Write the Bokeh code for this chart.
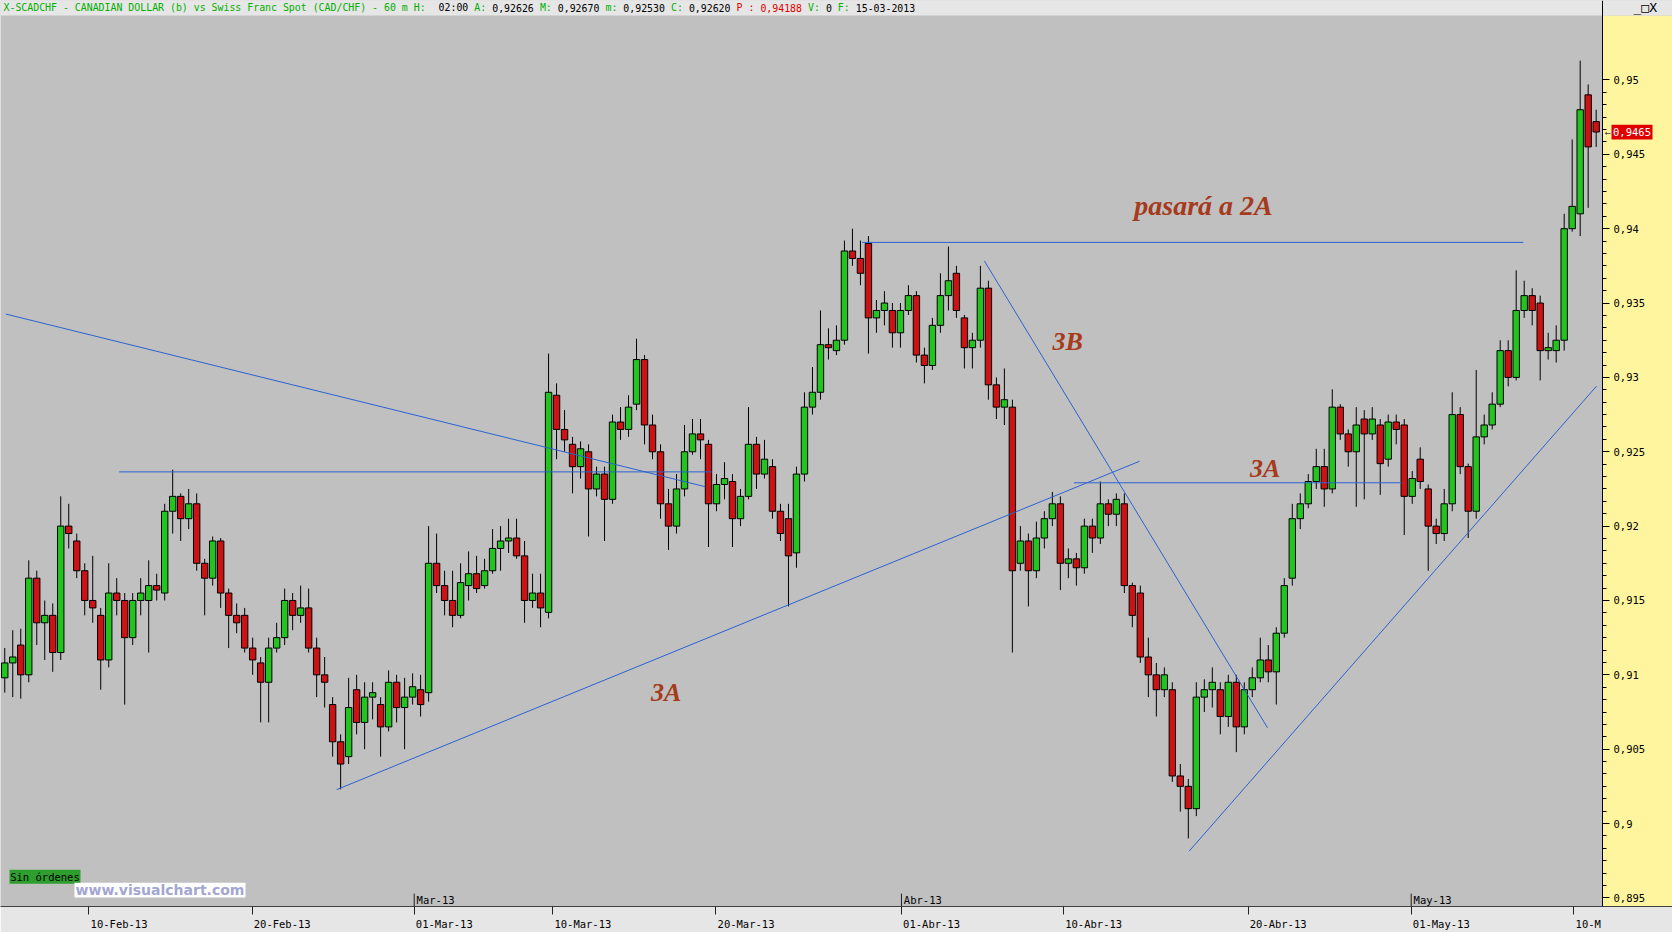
from bokeh.plotting import figure
from bokeh.models import ColumnDataSource, FixedTicker, Range1d
from bokeh.core.properties import value
from bokeh.embed import file_html
from bokeh.resources import INLINE

# ---------------- data ----------------
opens = [0.9098, 0.9108, 0.9120, 0.9100, 0.9165, 0.9135, 0.9140, 0.9115, 0.9200, 0.9190,
         0.9170, 0.9150, 0.9140, 0.9110, 0.9155, 0.9150, 0.9125, 0.9150, 0.9150, 0.9160,
         0.9155, 0.9210, 0.9220, 0.9205, 0.9215, 0.9175, 0.9165, 0.9190, 0.9155, 0.9140,
         0.9140, 0.9118, 0.9108, 0.9095, 0.9118, 0.9125, 0.9150, 0.9140, 0.9145, 0.9118,
         0.9100, 0.9080, 0.9055, 0.9045, 0.9090, 0.9068, 0.9085, 0.9080, 0.9065, 0.9095,
         0.9078, 0.9085, 0.9090, 0.9088, 0.9175, 0.9160, 0.9150, 0.9140, 0.9160, 0.9168,
         0.9160, 0.9170, 0.9185, 0.9190, 0.9192, 0.9180, 0.9150, 0.9155, 0.9142, 0.9288,
         0.9265, 0.9255, 0.9240, 0.9250, 0.9225, 0.9235, 0.9218, 0.9270, 0.9265, 0.9282,
         0.9312, 0.9268, 0.9250, 0.9215, 0.9200, 0.9225, 0.9250, 0.9262, 0.9255, 0.9215,
         0.9228, 0.9230, 0.9205, 0.9220, 0.9255, 0.9235, 0.9240, 0.9210, 0.9205, 0.9182,
         0.9235, 0.9280, 0.9290, 0.9322, 0.9318, 0.9325, 0.9385, 0.9380, 0.9390, 0.9340,
         0.9345, 0.9345, 0.9330, 0.9345, 0.9355, 0.9315, 0.9308, 0.9335, 0.9355, 0.9370,
         0.9340, 0.9320, 0.9325, 0.9360, 0.9295, 0.9280, 0.9280, 0.9175, 0.9190, 0.9170,
         0.9192, 0.9205, 0.9215, 0.9175, 0.9178, 0.9172, 0.9200, 0.9192, 0.9215, 0.9208,
         0.9215, 0.9160, 0.9155, 0.9112, 0.9100, 0.9090, 0.9090, 0.9032, 0.9025, 0.9010,
         0.9085, 0.9090, 0.9090, 0.9072, 0.9095, 0.9065, 0.9090, 0.9098, 0.9110, 0.9102,
         0.9128, 0.9165, 0.9205, 0.9215, 0.9230, 0.9240, 0.9225, 0.9280, 0.9262, 0.9250,
         0.9272, 0.9262, 0.9268, 0.9245, 0.9270, 0.9268, 0.9220, 0.9245, 0.9225, 0.9200,
         0.9195, 0.9215, 0.9275, 0.9240, 0.9210, 0.9260, 0.9268, 0.9282, 0.9318, 0.9300,
         0.9345, 0.9355, 0.9350, 0.9318, 0.9318, 0.9325, 0.9400, 0.9410, 0.9490, 0.9472]
highs = [0.9118, 0.9130, 0.9131, 0.9177, 0.9170, 0.9150, 0.9148, 0.9220, 0.9215, 0.9195,
         0.9175, 0.9180, 0.9145, 0.9175, 0.9165, 0.9155, 0.9155, 0.9165, 0.9177, 0.9168,
         0.9215, 0.9238, 0.9222, 0.9225, 0.9222, 0.9178, 0.9193, 0.9192, 0.9158, 0.9148,
         0.9145, 0.9125, 0.9112, 0.9125, 0.9135, 0.9158, 0.9155, 0.9160, 0.9158, 0.9125,
         0.9112, 0.9085, 0.9060, 0.9098, 0.9100, 0.9095, 0.9095, 0.9085, 0.9103, 0.9100,
         0.9098, 0.9101, 0.9100, 0.9200, 0.9195, 0.9170, 0.9170, 0.9175, 0.9183, 0.9180,
         0.9178, 0.9198, 0.9200, 0.9205, 0.9205, 0.9190, 0.9168, 0.9168, 0.9316, 0.9296,
         0.9278, 0.9260, 0.9257, 0.9255, 0.9240, 0.9240, 0.9275, 0.9280, 0.9288, 0.9326,
         0.9315, 0.9275, 0.9255, 0.9225, 0.9235, 0.9268, 0.9272, 0.9272, 0.9258, 0.9235,
         0.9243, 0.9235, 0.9225, 0.9280, 0.9260, 0.9258, 0.9245, 0.9215, 0.9215, 0.9240,
         0.9290, 0.9307, 0.9345, 0.9333, 0.9335, 0.9392, 0.9400, 0.9392, 0.9395, 0.9352,
         0.9358, 0.9350, 0.9350, 0.9362, 0.9358, 0.9320, 0.9340, 0.9370, 0.9388, 0.9375,
         0.9342, 0.9330, 0.9375, 0.9365, 0.9300, 0.9306, 0.9285, 0.9200, 0.9195, 0.9203,
         0.9210, 0.9223, 0.9220, 0.9185, 0.9182, 0.9205, 0.9205, 0.9230, 0.9218, 0.9222,
         0.9222, 0.9162, 0.9160, 0.9125, 0.9108, 0.9105, 0.9095, 0.9040, 0.9030, 0.9095,
         0.9097, 0.9105, 0.9095, 0.9100, 0.9100, 0.9095, 0.9105, 0.9125, 0.9120, 0.9132,
         0.9165, 0.9215, 0.9222, 0.9235, 0.9252, 0.9252, 0.9292, 0.9282, 0.9265, 0.9280,
         0.9278, 0.9280, 0.9272, 0.9275, 0.9275, 0.9272, 0.9237, 0.9253, 0.9228, 0.9205,
         0.9225, 0.9290, 0.9280, 0.9242, 0.9305, 0.9275, 0.9290, 0.9325, 0.9325, 0.9372,
         0.9365, 0.9360, 0.9355, 0.9330, 0.9335, 0.9410, 0.9460, 0.9513, 0.9497, 0.9480]
lows = [0.9088, 0.9085, 0.9084, 0.9095, 0.9120, 0.9110, 0.9102, 0.9110, 0.9185, 0.9165,
        0.9140, 0.9135, 0.9090, 0.9105, 0.9140, 0.9080, 0.9120, 0.9140, 0.9115, 0.9150,
        0.9150, 0.9195, 0.9190, 0.9198, 0.9170, 0.9140, 0.9160, 0.9145, 0.9118, 0.9128,
        0.9115, 0.9100, 0.9068, 0.9068, 0.9115, 0.9120, 0.9130, 0.9135, 0.9115, 0.9085,
        0.9078, 0.9045, 0.9023, 0.9040, 0.9060, 0.9050, 0.9070, 0.9045, 0.9062, 0.9068,
        0.9050, 0.9080, 0.9072, 0.9082, 0.9155, 0.9140, 0.9132, 0.9138, 0.9150, 0.9155,
        0.9158, 0.9168, 0.9170, 0.9182, 0.9178, 0.9135, 0.9145, 0.9132, 0.9138, 0.9245,
        0.9250, 0.9222, 0.9232, 0.9193, 0.9220, 0.9190, 0.9215, 0.9258, 0.9260, 0.9278,
        0.9255, 0.9245, 0.9205, 0.9184, 0.9195, 0.9220, 0.9248, 0.9245, 0.9186, 0.9210,
        0.9218, 0.9186, 0.9200, 0.9218, 0.9225, 0.9232, 0.9205, 0.9190, 0.9146, 0.9172,
        0.9230, 0.9275, 0.9285, 0.9312, 0.9315, 0.9322, 0.9375, 0.9362, 0.9316, 0.9330,
        0.9335, 0.9320, 0.9320, 0.9342, 0.9310, 0.9296, 0.9305, 0.9330, 0.9345, 0.9340,
        0.9306, 0.9306, 0.9320, 0.9285, 0.9272, 0.9268, 0.9115, 0.9170, 0.9146, 0.9165,
        0.9185, 0.9200, 0.9157, 0.9165, 0.9160, 0.9168, 0.9182, 0.9188, 0.9200, 0.9200,
        0.9155, 0.9132, 0.9108, 0.9085, 0.9072, 0.9085, 0.9028, 0.9008, 0.8990, 0.9005,
        0.9075, 0.9078, 0.9060, 0.9065, 0.9048, 0.9060, 0.9085, 0.9095, 0.9095, 0.9080,
        0.9125, 0.9160, 0.9198, 0.9212, 0.9225, 0.9213, 0.9222, 0.9258, 0.9240, 0.9213,
        0.9218, 0.9258, 0.9221, 0.9240, 0.9255, 0.9194, 0.9215, 0.9225, 0.9170, 0.9188,
        0.9190, 0.9210, 0.9235, 0.9192, 0.9205, 0.9255, 0.9265, 0.9280, 0.9294, 0.9298,
        0.9340, 0.9335, 0.9298, 0.9312, 0.9310, 0.9318, 0.9398, 0.9395, 0.9414, 0.9455]
closes = [0.9108, 0.9112, 0.9100, 0.9165, 0.9135, 0.9140, 0.9115, 0.9200, 0.9195, 0.9170,
          0.9150, 0.9145, 0.9110, 0.9155, 0.9150, 0.9125, 0.9150, 0.9155, 0.9160, 0.9157,
          0.9210, 0.9220, 0.9205, 0.9215, 0.9175, 0.9165, 0.9190, 0.9155, 0.9140, 0.9135,
          0.9118, 0.9110, 0.9095, 0.9118, 0.9125, 0.9150, 0.9140, 0.9145, 0.9118, 0.9100,
          0.9095, 0.9055, 0.9040, 0.9078, 0.9068, 0.9085, 0.9088, 0.9065, 0.9095, 0.9078,
          0.9085, 0.9092, 0.9080, 0.9175, 0.9160, 0.9150, 0.9140, 0.9162, 0.9168, 0.9158,
          0.9170, 0.9185, 0.9190, 0.9192, 0.9180, 0.9150, 0.9155, 0.9145, 0.9290, 0.9265,
          0.9258, 0.9240, 0.9252, 0.9225, 0.9235, 0.9218, 0.9270, 0.9265, 0.9280, 0.9312,
          0.9268, 0.9250, 0.9215, 0.9200, 0.9225, 0.9250, 0.9262, 0.9258, 0.9215, 0.9228,
          0.9232, 0.9205, 0.9220, 0.9255, 0.9235, 0.9245, 0.9210, 0.9195, 0.9180, 0.9235,
          0.9280, 0.9290, 0.9322, 0.9320, 0.9325, 0.9385, 0.9380, 0.9370, 0.9340, 0.9345,
          0.9350, 0.9330, 0.9345, 0.9355, 0.9315, 0.9308, 0.9335, 0.9355, 0.9365, 0.9345,
          0.9320, 0.9325, 0.9360, 0.9295, 0.9280, 0.9285, 0.9170, 0.9190, 0.9170, 0.9192,
          0.9205, 0.9215, 0.9175, 0.9178, 0.9172, 0.9200, 0.9192, 0.9215, 0.9208, 0.9218,
          0.9160, 0.9140, 0.9112, 0.9100, 0.9090, 0.9100, 0.9032, 0.9025, 0.9010, 0.9085,
          0.9090, 0.9095, 0.9072, 0.9095, 0.9065, 0.9090, 0.9098, 0.9110, 0.9102, 0.9128,
          0.9160, 0.9205, 0.9215, 0.9230, 0.9240, 0.9225, 0.9280, 0.9262, 0.9250, 0.9268,
          0.9262, 0.9272, 0.9242, 0.9270, 0.9265, 0.9220, 0.9232, 0.9230, 0.9200, 0.9195,
          0.9215, 0.9275, 0.9240, 0.9210, 0.9260, 0.9268, 0.9282, 0.9318, 0.9300, 0.9345,
          0.9355, 0.9345, 0.9318, 0.9320, 0.9325, 0.9400, 0.9415, 0.9480, 0.9455, 0.9465]

date_tick_pos = [10.53, 30.93, 51.2, 68.53, 88.93, 112.13, 132.4, 155.47, 175.87, 196.13]
date_tick_labels = ["10-Feb-13", "20-Feb-13", "01-Mar-13", "10-Mar-13", "20-Mar-13",
                    "01-Abr-13", "10-Abr-13", "20-Abr-13", "01-May-13", "10-M"]
month_pos = [51.2, 112.13, 175.87]
month_labels = ["Mar-13", "Abr-13", "May-13"]

price_ticks = [0.895, 0.9, 0.905, 0.91, 0.915, 0.92, 0.925, 0.93, 0.935, 0.94, 0.945, 0.95]
price_tick_labels = ["0,895", "0,9", "0,905", "0,91", "0,915", "0,92", "0,925", "0,93",
                     "0,935", "0,94", "0,945", "0,95"]
last_price = 0.9465
last_price_label = "0,9465"

# drawn trend lines (start / end as bar index and price)
trend_x0 = [0.13, 14.3, 41.5, 107.2, 122.5, 133.7, 148.1]
trend_y0 = [0.93426, 0.923647, 0.90228, 0.939078, 0.93783, 0.922913, 0.89814]
trend_x1 = [87.6, 88.4, 141.9, 189.9, 157.9, 174.7, 199.04]
trend_y1 = [0.92265, 0.923647, 0.92436, 0.939078, 0.90644, 0.922913, 0.92941]

note_texts = ["pasará a 2A", "3B", "3A", "3A"]
note_x = [149.9, 132.9, 157.6, 82.7]
note_y = [0.94159, 0.93241, 0.92386, 0.90883]

header_parts = [
    ("X-SCADCHF - CANADIAN DOLLAR (b) vs Swiss Franc Spot (CAD/CHF) -  60 m H:", "#00b000"),
    (" 02:00", "#000000"), (" A:", "#00b000"), (" 0,92626", "#000000"),
    (" M:", "#00b000"), (" 0,92670", "#000000"), (" m:", "#00b000"), (" 0,92530", "#000000"),
    (" C:", "#00b000"), (" 0,92620", "#000000"), (" P :", "#e00000"), (" 0,94188", "#e00000"),
    (" V:", "#00b000"), (" 0", "#000000"), (" F:", "#00b000"), (" 15-03-2013", "#000000"),
]

# ---------------- geometry of the page ----------------
GREEN = "#22c41e"
RED = "#cc1212"
MONO = "DejaVu Sans Mono"
PX_PER_BAR = 7.997          # horizontal pixels per bar
BAR0_PX = 4.265             # pixel position of the first bar
PX_PER_PRICE = 74.85 / 0.005
Y_TOP = 0.955344            # price at pixel row 0
Y_BOT = 0.894422            # price at the axis line (row 912)
X_LEFT = -0.533
X_RIGHT = (1672 - BAR0_PX) / PX_PER_BAR
AXIS_X = (1602 - BAR0_PX) / PX_PER_BAR


def bx(px):
    return (px - BAR0_PX) / PX_PER_BAR


def py(row):
    return Y_TOP - row / PX_PER_PRICE


HEAD_BOT = py(15)

n = len(closes)
src = ColumnDataSource(dict(
    x=list(range(n)), high=highs, low=lows,
    top=[max(o, c) for o, c in zip(opens, closes)],
    bottom=[min(o, c) for o, c in zip(opens, closes)],
    color=[GREEN if c >= o else RED for o, c in zip(opens, closes)],
))

p = figure(width=1672, height=932, title=None,
           x_range=Range1d(X_LEFT, X_RIGHT), y_range=Range1d(Y_BOT, Y_TOP),
           output_backend="svg", toolbar_location=None,
           y_axis_location="right", x_axis_location="below",
           min_border_left=0, min_border_top=0, min_border_bottom=20, min_border_right=0)
p.background_fill_color = "#c0c0c0"
p.border_fill_color = "#e6e6e6"
p.outline_line_color = None
p.grid.visible = False

# yellow price-scale panel and header strip
p.quad(left=[AXIS_X], right=[X_RIGHT + 1], bottom=[Y_BOT - 0.01], top=[HEAD_BOT],
       fill_color="#fff59e", line_color=None)
p.quad(left=[X_LEFT - 1], right=[X_RIGHT + 1], bottom=[HEAD_BOT], top=[Y_TOP + 0.01],
       fill_color="#e6e6e6", line_color=None)

# x axis: labels to the right of the tick marks
label_centers = [pos + (len(lbl) * 6.02 / 2 + 3) / PX_PER_BAR for pos, lbl in zip(date_tick_pos, date_tick_labels)]
xa = p.xaxis[0]
xa.ticker = FixedTicker(ticks=label_centers, minor_ticks=date_tick_pos)
xa.major_label_overrides = dict(zip(label_centers, date_tick_labels))
xa.major_tick_line_color = None
xa.major_tick_in = 0
xa.major_tick_out = 0
xa.minor_tick_in = 0
xa.minor_tick_out = 8
xa.minor_tick_line_color = "#202020"
xa.axis_line_color = "#404040"
xa.major_label_standoff = 3
xa.major_label_text_font = MONO
xa.major_label_text_font_size = "10.5px"
xa.major_label_text_color = "#000000"

# y axis drawn at the left edge of the yellow panel
minor_y = [0.895 + k * 0.005 / 6 for k in range(67)]
ya = p.yaxis[0]
ya.fixed_location = AXIS_X
ya.ticker = FixedTicker(ticks=price_ticks, minor_ticks=minor_y)
ya.major_label_overrides = dict(zip(price_ticks, price_tick_labels))
ya.major_tick_in = 0
ya.major_tick_out = 7
ya.minor_tick_in = 0
ya.minor_tick_out = 4
ya.major_tick_line_color = "#000000"
ya.minor_tick_line_color = "#000000"
ya.axis_line_color = "#000000"
ya.major_label_standoff = 4
ya.major_label_text_font = MONO
ya.major_label_text_font_size = "10.5px"
ya.major_label_text_color = "#000000"

# candles
p.segment(x0="x", y0="high", x1="x", y1="low", source=src, line_color="#000000", line_width=1)
p.vbar(x="x", width=0.8, top="top", bottom="bottom", source=src,
       fill_color="color", line_color="#000000", line_width=1)

# trend lines
p.segment(x0=trend_x0, y0=trend_y0, x1=trend_x1, y1=trend_y1, line_color="#2a62d0", line_width=1)

# notes
p.text(x=note_x, y=note_y, text=note_texts, text_font=value("Liberation Serif"),
       text_font_style="bold italic", text_font_size=["28px", "26px", "26px", "26px"],
       text_color="#a63a1c", text_align="center", text_baseline="middle")

# month markers above the axis
p.segment(x0=month_pos, y0=[py(899)] * len(month_pos), x1=month_pos, y1=[Y_BOT] * len(month_pos),
          line_color="#202020", line_width=1)
p.text(x=[m + 0.3 for m in month_pos], y=[py(905)] * len(month_pos), text=month_labels,
       text_font=value(MONO), text_font_size="10.5px", text_color="#000000",
       text_align="left", text_baseline="middle")

# header line
cw = 0.602 * 9.9
hx, ht, hc = [], [], []
pos = 0
for txt, col in header_parts:
    lead = len(txt) - len(txt.lstrip(" "))
    hx.append(bx(3 + (pos + lead) * cw))
    ht.append(txt.strip())
    hc.append(col)
    pos += len(txt)
p.text(x=hx, y=[py(7.5)] * len(hx), text=ht, text_color=hc,
       text_font=value(MONO), text_font_size="9.9px", text_baseline="middle", text_align="left")
p.text(x=[bx(1633)], y=[py(7.5)], text=["_□X"], text_color="#000000",
       text_font=value(MONO), text_font_size="13px", text_baseline="middle", text_align="left")

# last price marker
p.text(x=[bx(1604)], y=[last_price], text=["←"], text_color="#404040",
       text_font=value(MONO), text_font_size="10px", text_baseline="middle", text_align="left")
p.quad(left=[bx(1611)], right=[bx(1652)], top=[py(125)], bottom=[py(140)],
       fill_color="#e00000", line_color=None)
p.text(x=[bx(1631.5)], y=[last_price], text=[last_price_label], text_color="#ffffff",
       text_font=value(MONO), text_font_size="10.5px", text_baseline="middle", text_align="center")

# status labels bottom left
p.quad(left=[bx(9)], right=[bx(80)], top=[py(875)], bottom=[py(889)],
       fill_color="#2e9e2e", line_color=None)
p.text(x=[bx(44.5)], y=[py(882)], text=["Sin órdenes"], text_color="#000000",
       text_font=value(MONO), text_font_size="10.5px", text_baseline="middle", text_align="center")
p.quad(left=[bx(74)], right=[bx(245)], top=[py(888)], bottom=[py(903)],
       fill_color="#ffffff", line_color=None)
p.text(x=[bx(159.5)], y=[py(895.5)], text=["www.visualchart.com"], text_color="#a3a6d2",
       text_font=value("DejaVu Sans"), text_font_style="bold", text_font_size="14px",
       text_baseline="middle", text_align="center")

open("out.html", "w").write(file_html(p, INLINE))
